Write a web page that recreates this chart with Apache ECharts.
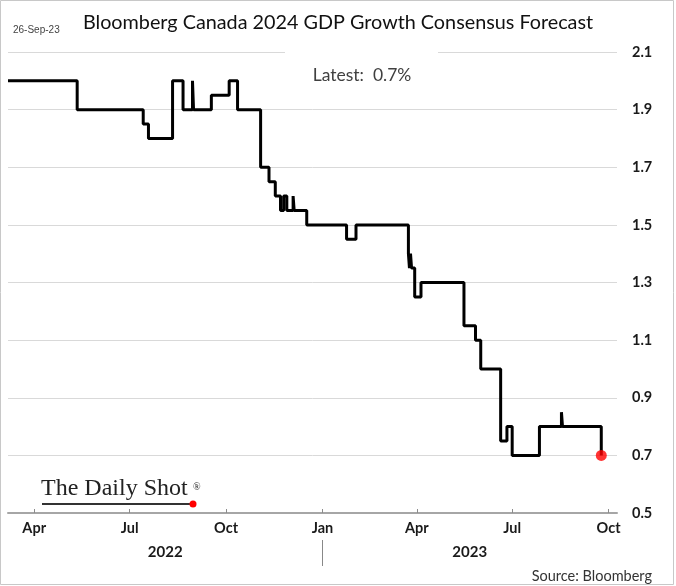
<!DOCTYPE html>
<html><head><meta charset="utf-8">
<script src="https://cdn.jsdelivr.net/npm/echarts@6/dist/echarts.min.js"></script>
<style>html,body{margin:0;padding:0;background:#fff}#c{width:676px;height:586px}</style>
</head><body><div id="c"></div>
<script>
// ---- data ----
const changeDates = [
  '2022-03-07','2022-05-12','2022-07-14','2022-07-19','2022-08-11','2022-08-21',
  '2022-08-30','2022-08-31','2022-09-17','2022-10-04','2022-10-12','2022-11-03',
  '2022-11-11','2022-11-17','2022-11-22','2022-11-25','2022-11-28','2022-12-04',
  '2022-12-05','2022-12-17','2023-01-24','2023-02-02','2023-03-24','2023-03-25',
  '2023-03-26','2023-03-27','2023-03-30','2023-04-05','2023-05-16','2023-05-27',
  '2023-06-01','2023-06-20','2023-06-26','2023-07-01','2023-07-27','2023-08-17',
  '2023-08-18','2023-09-24'
];
const forecastValues = [
  2.0, 1.9, 1.85, 1.8, 2.0, 1.9,
  2.0, 1.9, 1.95, 2.0, 1.9, 1.7,
  1.65, 1.6, 1.55, 1.6, 1.55, 1.6,
  1.55, 1.5, 1.45, 1.5, 1.4, 1.35,
  1.4, 1.35, 1.25, 1.3, 1.15, 1.1,
  1.0, 0.75, 0.8, 0.7, 0.8, 0.85,
  0.8, 0.7
];
const monthNames = ['Jan','Feb','Mar','Apr','May','Jun','Jul','Aug','Sep','Oct','Nov','Dec'];
const yearLabels = ['2022', '2023'];
const yearSpans = [['2022-03-07','2023-01-01'], ['2023-01-01','2023-10-09']];
const yearDivider = '2023-01-01';
const axisStart = '2022-03-07';
const axisEnd = '2023-10-09';
const yMin = 0.5, yMax = 2.1, yStep = 0.2;
const chartTitle = 'Bloomberg Canada 2024 GDP Growth Consensus Forecast';
const reportDate = '26-Sep-23';
const latestLabel = 'Latest:  0.7%';
const sourceText = 'Source: Bloomberg';
const logoText = 'The Daily Shot';

const FONT = 'Lato, "Open Sans", sans-serif';
const seriesData = changeDates.map((d, i) => [d, forecastValues[i]]);
const lastPoint = seriesData[seriesData.length - 1];

const chart = echarts.init(document.getElementById('c'), null, {renderer: 'canvas'});
const DAY = 86400000;
const option = {
  animation: false,
  backgroundColor: '#fff',
  title: {
    text: chartTitle, left: 'center', top: 8,
    textStyle: {fontFamily: FONT, fontSize: 19.8, fontWeight: 'normal', color: '#111'}
  },
  grid: {left: 8, right: 59, top: 52, bottom: 73, containLabel: false},
  xAxis: {
    type: 'time', min: axisStart, max: axisEnd,
    minInterval: 80 * DAY, maxInterval: 100 * DAY,
    axisLine: {show: true, lineStyle: {color: '#a6a6a6', width: 2}},
    axisTick: {show: true, inside: true, length: 4, lineStyle: {color: '#8c8c8c', width: 1}},
    splitLine: {show: false},
    axisLabel: {
      fontFamily: FONT, fontSize: 14.5, fontWeight: 'bold', color: '#1a1a1a', margin: 8,
      formatter: function (v) { return monthNames[new Date(v).getMonth()]; }
    }
  },
  yAxis: {
    type: 'value', position: 'right', min: yMin, max: yMax, interval: yStep,
    axisLine: {show: false}, axisTick: {show: false},
    splitLine: {show: true, lineStyle: {color: '#d9d9d9', width: 1}},
    axisLabel: {
      fontFamily: FONT, fontSize: 14.5, fontWeight: 'bold', color: '#1a1a1a', margin: 15,
      formatter: function (v) { return v.toFixed(1); }
    }
  },
  series: [
    {
      type: 'line', step: 'end', data: seriesData, symbol: 'none',
      lineStyle: {color: '#000', width: 3}, z: 3
    },
    {
      type: 'scatter', data: [lastPoint], symbolSize: 11,
      itemStyle: {color: '#ff0000'}, z: 4
    }
  ]
};
chart.setOption(option);

function px(d) { return chart.convertToPixel({xAxisIndex: 0}, d); }
const yBottom = chart.convertToPixel({yAxisIndex: 0}, yMin);
const graphics = [
  {type: 'rect', shape: {x: 0.5, y: 0.5, width: 673, height: 584},
   style: {fill: 'none', stroke: '#c8c8c8', lineWidth: 1}, z: 20, silent: true},
  {type: 'text', x: 13, y: 30, style: {text: reportDate, fontFamily: '"Liberation Sans Narrow", "Liberation Sans", sans-serif', fontSize: 10, fill: '#444', verticalAlign: 'middle'}},
  {type: 'rect', shape: {x: 285, y: 44, width: 153, height: 20}, style: {fill: '#fff'}, z: 10},
  {type: 'text', x: 362, y: 75, z: 11, style: {text: latestLabel, fontFamily: FONT, fontSize: 17.5, fill: '#404040', align: 'center', verticalAlign: 'middle'}},
  {type: 'text', x: 41, y: 501, z: 11, style: {text: logoText, fontFamily: '"Liberation Serif", "DejaVu Serif", serif', fontSize: 24, fill: '#222', verticalAlign: 'bottom'}},
  {type: 'text', x: 193, y: 487, z: 11, style: {text: '\u00AE', fontFamily: '"Liberation Serif", serif', fontSize: 10, fill: '#222', verticalAlign: 'middle'}},
  {type: 'line', shape: {x1: 42, y1: 504, x2: 192, y2: 504}, style: {stroke: '#333', lineWidth: 2}, z: 11},
  {type: 'circle', shape: {cx: 193, cy: 504, r: 3.5}, style: {fill: '#ff0000'}, z: 12},
  {type: 'text', x: 652, y: 576, style: {text: sourceText, fontFamily: FONT, fontSize: 14.5, fill: '#333', align: 'right', verticalAlign: 'middle'}}
];
yearLabels.forEach(function (lab, i) {
  const a = px(yearSpans[i][0]), b = px(yearSpans[i][1]);
  graphics.push({type: 'text', x: (a + b) / 2, y: 552, style: {text: lab, fontFamily: FONT, fontSize: 15, fontWeight: 'bold', fill: '#1a1a1a', align: 'center', verticalAlign: 'middle'}});
});
const dx = Math.round(px(yearDivider)) + 0.5;
graphics.push({type: 'line', shape: {x1: dx, y1: yBottom + 27, x2: dx, y2: yBottom + 53}, style: {stroke: '#888', lineWidth: 1}});
chart.setOption({graphic: graphics});
</script>
</body></html>
